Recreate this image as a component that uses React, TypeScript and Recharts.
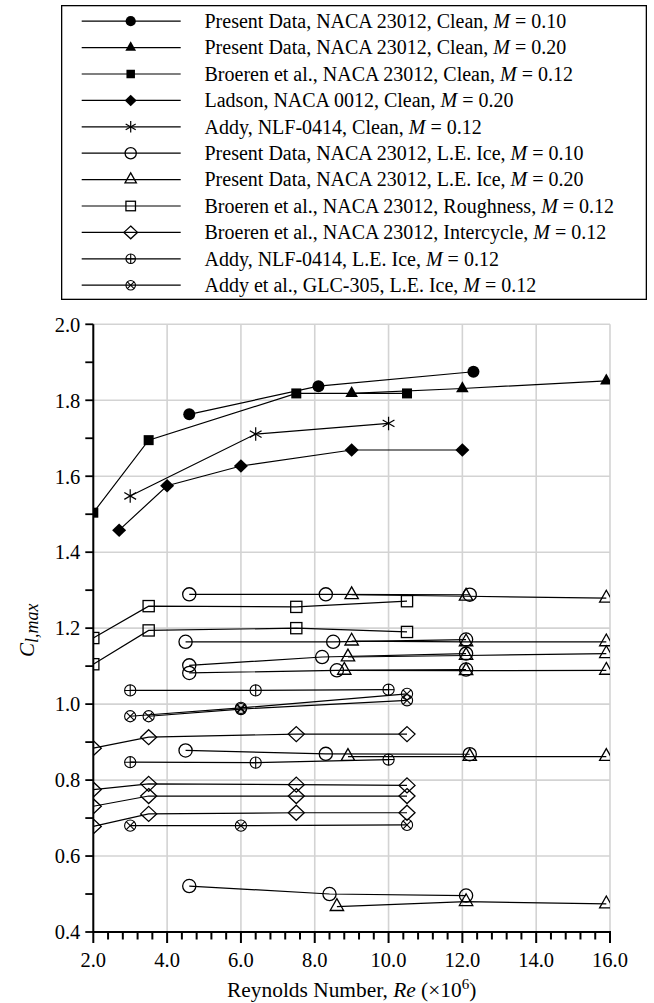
import React from 'react';
import { ScatterChart, Scatter, XAxis, YAxis, CartesianGrid, Legend } from 'recharts';

const FONT = '"Liberation Serif", "Times New Roman", Times, serif';

// Reynolds number (x10^6) and maximum lift coefficient, one row per curve
const PRESENT_CLEAN_M10_RE = [[4.6, 8.1, 12.3]];
const PRESENT_CLEAN_M10_CL = [[1.763, 1.837, 1.875]];

const PRESENT_CLEAN_M20_RE = [[9.0, 12.0, 15.9]];
const PRESENT_CLEAN_M20_CL = [[1.818, 1.831, 1.851]];

const BROEREN_CLEAN_RE = [[2.0, 3.5, 7.5, 10.5]];
const BROEREN_CLEAN_CL = [[1.504, 1.695, 1.818, 1.818]];

const LADSON_CLEAN_RE = [[2.7, 4.0, 6.0, 9.0, 12.0]];
const LADSON_CLEAN_CL = [[1.458, 1.575, 1.627, 1.669, 1.669]];

const ADDY_CLEAN_RE = [[3.0, 6.4, 10.0]];
const ADDY_CLEAN_CL = [[1.548, 1.711, 1.739]];

const PRESENT_ICE_M10_RE = [
  [4.6, 8.3, 12.2],
  [4.5, 8.5, 12.1],
  [4.6, 8.2, 12.1],
  [4.6, 8.6, 12.1],
  [4.5, 8.3, 12.2],
  [4.6, 8.4, 12.1],
];
const PRESENT_ICE_M10_CL = [
  [1.289, 1.289, 1.288],
  [1.164, 1.164, 1.170],
  [1.102, 1.124, 1.133],
  [1.082, 1.089, 1.091],
  [0.878, 0.869, 0.868],
  [0.521, 0.500, 0.496],
];

const PRESENT_ICE_M20_RE = [
  [9.0, 12.1, 15.9],
  [9.0, 12.1, 15.9],
  [8.9, 12.1, 15.9],
  [8.8, 12.1, 15.9],
  [8.9, 12.2, 15.9],
  [8.6, 12.1, 15.9],
];
const PRESENT_ICE_M20_CL = [
  [1.288, 1.284, 1.279],
  [1.166, 1.164, 1.164],
  [1.124, 1.128, 1.133],
  [1.089, 1.088, 1.089],
  [0.862, 0.862, 0.862],
  [0.467, 0.480, 0.474],
];

const BROEREN_ROUGH_RE = [
  [2.0, 3.5, 7.5, 10.5],
  [2.0, 3.5, 7.5, 10.5],
];
const BROEREN_ROUGH_CL = [
  [1.174, 1.258, 1.256, 1.271],
  [1.105, 1.194, 1.200, 1.190],
];

const BROEREN_INTER_RE = [
  [2.0, 3.5, 7.5, 10.5],
  [2.0, 3.5, 7.5, 10.5],
  [2.0, 3.5, 7.5, 10.5],
  [2.0, 3.5, 7.5, 10.5],
];
const BROEREN_INTER_CL = [
  [0.884, 0.913, 0.921, 0.921],
  [0.775, 0.790, 0.788, 0.786],
  [0.731, 0.758, 0.758, 0.758],
  [0.678, 0.711, 0.714, 0.714],
];

const ADDY_ICE_RE = [
  [3.0, 6.4, 10.0],
  [3.0, 6.4, 10.0],
];
const ADDY_ICE_CL = [
  [1.036, 1.036, 1.038],
  [0.847, 0.846, 0.854],
];

const GLC305_ICE_RE = [
  [3.0, 6.0, 10.5],
  [3.5, 6.0, 10.5],
  [3.0, 6.0, 10.5],
];
const GLC305_ICE_CL = [
  [0.968, 0.990, 1.027],
  [0.968, 0.987, 1.010],
  [0.680, 0.680, 0.682],
];

// Axis ticks
const X_LABELED = [2, 4, 6, 8, 10, 12, 14, 16];
const X_TICKS = [
  2.0, 2.4, 2.8, 3.2, 3.6, 4.0, 4.4, 4.8, 5.2, 5.6, 6.0, 6.4, 6.8, 7.2, 7.6, 8.0, 8.4, 8.8,
  9.2, 9.6, 10.0, 10.4, 10.8, 11.2, 11.6, 12.0, 12.4, 12.8, 13.2, 13.6, 14.0, 14.4, 14.8,
  15.2, 15.6, 16.0,
];
const Y_LABELED = [0.4, 0.6, 0.8, 1.0, 1.2, 1.4, 1.6, 1.8, 2.0];
const Y_TICKS = [0.4, 0.5, 0.6, 0.7, 0.8, 0.9, 1.0, 1.1, 1.2, 1.3, 1.4, 1.5, 1.6, 1.7, 1.8, 1.9, 2.0];

type Kind =
  | 'dot' | 'tri' | 'sq' | 'dia' | 'star'
  | 'ring' | 'otri' | 'osq' | 'odia' | 'oplus' | 'otimes';

interface DataSet {
  label: string;
  mach: string;
  kind: Kind;
  re: number[][];
  cl: number[][];
}

const DATA_SETS: DataSet[] = [
  { label: 'Present Data, NACA 23012, Clean, ', mach: '0.10', kind: 'dot', re: PRESENT_CLEAN_M10_RE, cl: PRESENT_CLEAN_M10_CL },
  { label: 'Present Data, NACA 23012, Clean, ', mach: '0.20', kind: 'tri', re: PRESENT_CLEAN_M20_RE, cl: PRESENT_CLEAN_M20_CL },
  { label: 'Broeren et al., NACA 23012, Clean, ', mach: '0.12', kind: 'sq', re: BROEREN_CLEAN_RE, cl: BROEREN_CLEAN_CL },
  { label: 'Ladson, NACA 0012, Clean, ', mach: '0.20', kind: 'dia', re: LADSON_CLEAN_RE, cl: LADSON_CLEAN_CL },
  { label: 'Addy, NLF-0414, Clean, ', mach: '0.12', kind: 'star', re: ADDY_CLEAN_RE, cl: ADDY_CLEAN_CL },
  { label: 'Present Data, NACA 23012, L.E. Ice, ', mach: '0.10', kind: 'ring', re: PRESENT_ICE_M10_RE, cl: PRESENT_ICE_M10_CL },
  { label: 'Present Data, NACA 23012, L.E. Ice, ', mach: '0.20', kind: 'otri', re: PRESENT_ICE_M20_RE, cl: PRESENT_ICE_M20_CL },
  { label: 'Broeren et al., NACA 23012, Roughness, ', mach: '0.12', kind: 'osq', re: BROEREN_ROUGH_RE, cl: BROEREN_ROUGH_CL },
  { label: 'Broeren et al., NACA 23012, Intercycle, ', mach: '0.12', kind: 'odia', re: BROEREN_INTER_RE, cl: BROEREN_INTER_CL },
  { label: 'Addy, NLF-0414, L.E. Ice, ', mach: '0.12', kind: 'oplus', re: ADDY_ICE_RE, cl: ADDY_ICE_CL },
  { label: 'Addy et al., GLC-305, L.E. Ice, ', mach: '0.12', kind: 'otimes', re: GLC305_ICE_RE, cl: GLC305_ICE_CL },
];

const INK = '#000';
const OPEN_W = 1.3;

function Marker({ kind, cx, cy, s = 1 }: { kind: Kind; cx: number; cy: number; s?: number }) {
  if (cx == null || cy == null || Number.isNaN(cx) || Number.isNaN(cy)) return null;
  switch (kind) {
    case 'dot':
      return <circle cx={cx} cy={cy} r={6 * s} fill={INK} />;
    case 'tri': {
      const w = 12.6 * s, h = 11 * s;
      return (
        <polygon
          points={`${cx},${cy - (2 * h) / 3} ${cx + w / 2},${cy + h / 3} ${cx - w / 2},${cy + h / 3}`}
          fill={INK}
        />
      );
    }
    case 'sq': {
      const a = 10 * s;
      return <rect x={cx - a / 2} y={cy - a / 2} width={a} height={a} fill={INK} />;
    }
    case 'dia': {
      const w = 14 * s, h = 13.5 * s;
      return (
        <polygon
          points={`${cx},${cy - h / 2} ${cx + w / 2},${cy} ${cx},${cy + h / 2} ${cx - w / 2},${cy}`}
          fill={INK}
        />
      );
    }
    case 'star': {
      const r = 6.8 * s;
      const dx = r * Math.cos(Math.PI / 6), dy = r * Math.sin(Math.PI / 6);
      return (
        <g stroke={INK} strokeWidth={1.2}>
          <line x1={cx} y1={cy - r} x2={cx} y2={cy + r} />
          <line x1={cx - dx} y1={cy - dy} x2={cx + dx} y2={cy + dy} />
          <line x1={cx - dx} y1={cy + dy} x2={cx + dx} y2={cy - dy} />
        </g>
      );
    }
    case 'ring':
      return <circle cx={cx} cy={cy} r={6.6 * s} fill="none" stroke={INK} strokeWidth={OPEN_W} />;
    case 'otri': {
      const w = 13.4 * s, h = 11.8 * s;
      return (
        <polygon
          points={`${cx},${cy - (2 * h) / 3} ${cx + w / 2},${cy + h / 3} ${cx - w / 2},${cy + h / 3}`}
          fill="none"
          stroke={INK}
          strokeWidth={OPEN_W}
        />
      );
    }
    case 'osq': {
      const a = 11.2 * s;
      return (
        <rect x={cx - a / 2} y={cy - a / 2} width={a} height={a} fill="none" stroke={INK} strokeWidth={OPEN_W} />
      );
    }
    case 'odia': {
      const w = 16 * s, h = 15 * s;
      return (
        <polygon
          points={`${cx},${cy - h / 2} ${cx + w / 2},${cy} ${cx},${cy + h / 2} ${cx - w / 2},${cy}`}
          fill="none"
          stroke={INK}
          strokeWidth={OPEN_W}
        />
      );
    }
    case 'oplus': {
      const r = 5.6 * s;
      return (
        <g fill="none" stroke={INK} strokeWidth={1.1}>
          <circle cx={cx} cy={cy} r={r} />
          <line x1={cx - r} y1={cy} x2={cx + r} y2={cy} />
          <line x1={cx} y1={cy - r} x2={cx} y2={cy + r} />
        </g>
      );
    }
    case 'otimes': {
      const r = 5.6 * s;
      const d = r * Math.SQRT1_2;
      return (
        <g fill="none" stroke={INK} strokeWidth={1.1}>
          <circle cx={cx} cy={cy} r={r} />
          <line x1={cx - d} y1={cy - d} x2={cx + d} y2={cy + d} />
          <line x1={cx - d} y1={cy + d} x2={cx + d} y2={cy - d} />
        </g>
      );
    }
    default:
      return null;
  }
}

// Legend box layout
const LEGEND_LEFT = 61;
const LEGEND_TOP = 5;
const LEGEND_W = 586;
const LEGEND_H = 295;
const LEGEND_ROW0 = 16.2;
const LEGEND_STEP = 26.4;

function LegendBox() {
  return (
    <svg width={LEGEND_W} height={LEGEND_H} style={{ display: 'block' }}>
      <rect
        x={0.65}
        y={0.65}
        width={LEGEND_W - 1.3}
        height={LEGEND_H - 1.3}
        fill="#fff"
        stroke={INK}
        strokeWidth={1.3}
      />
      {DATA_SETS.map((ds, i) => {
        const cy = LEGEND_ROW0 + i * LEGEND_STEP;
        return (
          <g key={i}>
            <line x1={20.7} x2={119.7} y1={cy} y2={cy} stroke={INK} strokeWidth={1.2} />
            <Marker kind={ds.kind} cx={69.7} cy={cy} s={0.85} />
            <text x={143.5} y={cy + 6.8} fontFamily={FONT} fontSize={20} fill={INK}>
              {ds.label}
              <tspan fontStyle="italic">M</tspan>
              {' = ' + ds.mach}
            </text>
          </g>
        );
      })}
    </svg>
  );
}

const isLabeledX = (v: number) => X_LABELED.some((t) => Math.abs(t - v) < 1e-6);
const isLabeledY = (v: number) => Y_LABELED.some((t) => Math.abs(t - v) < 1e-6);

const X_MINOR_LEN = 7.5;
const X_MAJOR_LEN = 11;

// X-axis tick: short mark at every tick, longer mark and a label at every 2.0
function XTick(props: any) {
  const { x, y, payload } = props;
  const v = Number(payload.value);
  const major = isLabeledX(v);
  const axisY = y - X_MINOR_LEN;
  return (
    <g>
      <line
        x1={x}
        x2={x}
        y1={axisY - 1}
        y2={axisY + (major ? X_MAJOR_LEN : X_MINOR_LEN)}
        stroke={INK}
        strokeWidth={2}
      />
      {major && (
        <text x={x} y={axisY + 35} textAnchor="middle" fontFamily={FONT} fontSize={20.5} fill={INK}>
          {v.toFixed(1)}
        </text>
      )}
    </g>
  );
}

function XTitle(props: any) {
  const vb = props.viewBox || {};
  const cx = vb.x + vb.width / 2;
  return (
    <text x={cx} y={vb.y + 65} textAnchor="middle" fontFamily={FONT} fontSize={21.4} fill={INK}>
      {'Reynolds Number, '}
      <tspan fontStyle="italic">Re</tspan>
      {' (\u00d710'}
      <tspan dy={-8} fontSize={15}>6</tspan>
      <tspan dy={8}>)</tspan>
    </text>
  );
}

function YTitle(props: any) {
  const vb = props.viewBox || {};
  const cy = vb.y + vb.height / 2 + 2;
  const x = 34;
  return (
    <text
      x={x}
      y={cy}
      transform={`rotate(-90, ${x}, ${cy})`}
      textAnchor="middle"
      fontFamily={FONT}
      fontSize={21}
      fill={INK}
    >
      <tspan fontStyle="italic">C</tspan>
      <tspan fontStyle="italic" fontSize={18} dy={4}>l,max</tspan>
    </text>
  );
}

export default function App() {
  return (
    <div style={{ position: 'absolute', left: 0, top: 0, width: 654, height: 1003, background: '#fff' }}>
      <ScatterChart width={654} height={1003} margin={{ top: 324.3, right: 44, bottom: 0, left: 0 }}>
        <CartesianGrid
          xAxisId="x"
          yAxisId="y"
          stroke="#d3d3d3"
          strokeWidth={1.6}
          verticalValues={X_LABELED}
          horizontalValues={Y_LABELED}
        />
        <XAxis
          xAxisId="x"
          type="number"
          dataKey="re"
          domain={[2, 16]}
          ticks={X_TICKS}
          interval={0}
          height={71}
          tickSize={X_MINOR_LEN}
          tickMargin={0}
          tickLine={false}
          axisLine={{ stroke: INK, strokeWidth: 2 }}
          tick={(p: any) => <XTick {...p} />}
          allowDataOverflow
          label={<XTitle />}
        />
        <YAxis
          yAxisId="y"
          type="number"
          dataKey="cl"
          domain={[0.4, 2.0]}
          ticks={Y_TICKS}
          interval={0}
          width={93.3}
          tickSize={8}
          tickMargin={5}
          tickLine={{ stroke: INK, strokeWidth: 1.8 }}
          axisLine={{ stroke: INK, strokeWidth: 2 }}
          tick={{ fontFamily: FONT, fontSize: 20.5, fill: INK }}
          tickFormatter={(v: number) => (isLabeledY(v) ? v.toFixed(1) : '')}
          allowDataOverflow
          label={<YTitle />}
        />
        <Legend
          layout="vertical"
          align="center"
          verticalAlign="middle"
          wrapperStyle={{ left: LEGEND_LEFT, top: LEGEND_TOP, width: LEGEND_W, height: LEGEND_H }}
          content={() => <LegendBox />}
        />
        {DATA_SETS.flatMap((ds, si) =>
          ds.re.map((row, li) => (
            <Scatter
              key={`${si}-${li}`}
              name={`${ds.label}M = ${ds.mach}`}
              xAxisId="x"
              yAxisId="y"
              data={row.map((re, i) => ({ re, cl: ds.cl[li][i] }))}
              line={{ stroke: INK, strokeWidth: 1.2 }}
              lineType="joint"
              legendType="none"
              shape={(p: any) => <Marker kind={ds.kind} cx={p.cx} cy={p.cy} />}
              isAnimationActive={false}
            />
          ))
        )}
      </ScatterChart>
    </div>
  );
}
